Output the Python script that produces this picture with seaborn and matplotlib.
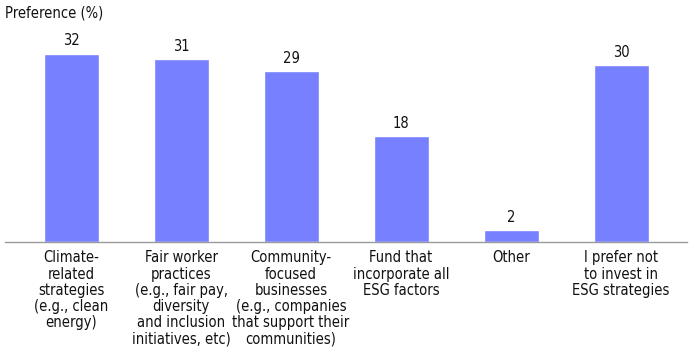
import matplotlib
matplotlib.use("Agg")
import matplotlib.pyplot as plt
import seaborn as sns
import pandas as pd

# 데이터
categories = [
    "Climate-\nrelated\nstrategies\n(e.g., clean\nenergy)",
    "Fair worker\npractices\n(e.g., fair pay,\ndiversity\nand inclusion\ninitiatives, etc)",
    "Community-\nfocused\nbusinesses\n(e.g., companies\nthat support their\ncommunities)",
    "Fund that\nincorporate all\nESG factors",
    "Other",
    "I prefer not\nto invest in\nESG strategies",
]
values = [32, 31, 29, 18, 2, 30]
y_title = "Preference (%)"

bar_color = "#7780FF"

sns.set_theme(style="white")
plt.rcParams['font.family'] = ['DejaVu Sans']
plt.rcParams['font.stretch'] = 'condensed'

df = pd.DataFrame({"cat": categories, "val": values})

fig = plt.figure(figsize=(6.91, 3.51), dpi=100)
ax = fig.add_axes([5 / 691, 1 - 242 / 351, 682 / 691, 212 / 351])

sns.barplot(data=df, x="cat", y="val", color=bar_color, width=0.5,
            saturation=1, ax=ax)

for i, v in enumerate(values):
    ax.text(i, v + 0.9, str(v), ha="center", va="bottom", fontsize=10.5,
            color="#111111", fontstretch="condensed")

ax.set_xlim(-0.6, 5.6)
ax.set_ylim(0, 36)
ax.set_xlabel("")
ax.set_ylabel("")
ax.set_yticks([])
ax.tick_params(axis="x", length=0, pad=6, colors="#111111")
for lbl in ax.get_xticklabels():
    lbl.set_fontsize(10.5)
    lbl.set_linespacing(1.1)
    lbl.set_fontstretch("condensed")
for s in ["top", "right", "left"]:
    ax.spines[s].set_visible(False)
ax.spines["bottom"].set_color("#9a9a9a")
ax.spines["bottom"].set_linewidth(1)

fig.text(5 / 691, 1 - 13 / 351, y_title, ha="left", va="center",
         fontsize=10.5, color="#111111", fontstretch="condensed")

fig.savefig("out.png", dpi=100)
